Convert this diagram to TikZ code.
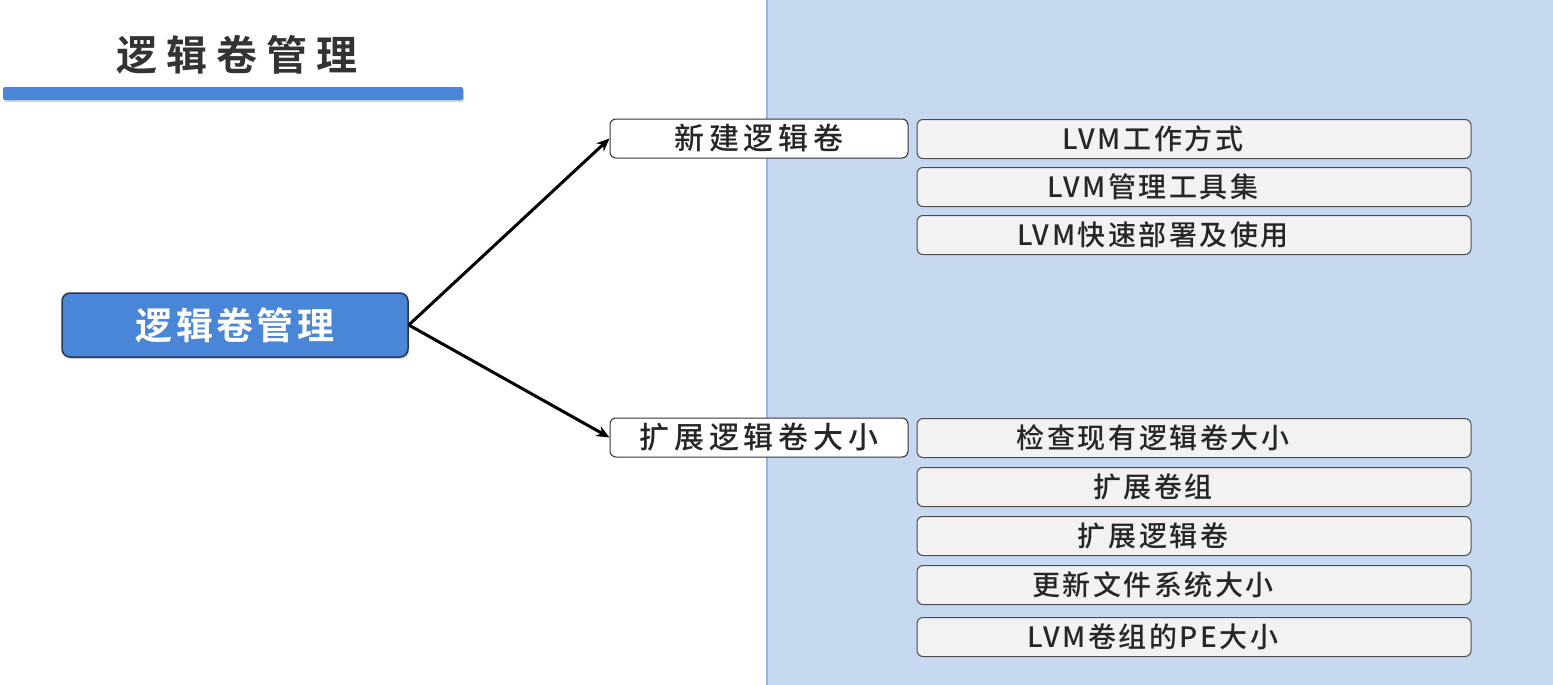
\documentclass[tikz,border=0pt]{standalone}
\usepackage{fontspec}
\setmainfont{Noto Sans CJK SC Medium}[BoldFont={Noto Sans CJK SC Bold}]
\usetikzlibrary{arrows.meta,shadows}
\definecolor{lvpanel}{RGB}{198,217,240}
\definecolor{lvblue}{RGB}{74,134,216}
\definecolor{lvedge}{RGB}{38,56,86}
\definecolor{lvbox}{RGB}{242,242,242}
\definecolor{lvtext}{RGB}{51,51,51}
\newcommand{\lvfont}[2]{\fontsize{#1}{#1}\selectfont\addfontfeatures{LetterSpace=#2}}
\newcommand{\lvitems}[2]{%
  \foreach \ytop/\txt [count=\i] in {#2}{%
    \node[itembox] (#1\i) at (1194,\ytop) {\hspace*{-82pt}\txt};}
}

\begin{document}
\begin{tikzpicture}[x=1pt,y=-1pt,
    topic/.style={draw=lvedge,line width=1.5pt,rounded corners=8pt,fill=lvblue,
      text=white,minimum width=346pt,minimum height=64pt,inner sep=0pt,
      font=\lvfont{37}{9}\bfseries,drop shadow={opacity=.35,shadow xshift=1pt,shadow yshift=-2pt}},
    branch/.style={draw=black!80,line width=1pt,rounded corners=6pt,fill=white,
      text=black!85,minimum width=298pt,minimum height=39pt,inner sep=0pt,
      font=\lvfont{30}{16}},
    itembox/.style={draw=black!70,line width=1pt,rounded corners=6pt,fill=lvbox,
      text=black!85,minimum width=554pt,minimum height=39pt,inner sep=0pt,anchor=north,
      font=\lvfont{28}{9}},
    link/.style={-{Stealth[length=13pt,width=11pt]},line width=3pt}]
  \useasboundingbox (0,0) rectangle (1553,685);
  \fill[lvpanel] (766,0) rectangle (1553,685);
  \draw[lvblue!60,line width=1.5pt] (767,0) -- (767,685);
  % heading
  \node[text=lvtext,font=\lvfont{41}{22}\bfseries] (title) at (237,55) {逻辑卷管理};
  \fill[lvblue,rounded corners=2pt,drop shadow={opacity=.35,shadow xshift=1pt,shadow yshift=-2pt}]
    (3,87) rectangle (463,100);
  % tree
  \node[topic] (root) at (235,325) {逻辑卷管理};
  \node[branch] (create) at (759,138.5) {新建逻辑卷};
  \node[branch] (extend) at (759,437.5) {扩展逻辑卷大小};
  \draw[link] (root.east) -- (create.west);
  \draw[link] (root.east) -- (extend.west);
  \lvitems{c}{119/LVM工作方式,167/LVM管理工具集,215/LVM快速部署及使用}
  \lvitems{e}{418/检查现有逻辑卷大小,467/扩展卷组,516/扩展逻辑卷,565/更新文件系统大小,617/LVM卷组的PE大小}
\end{tikzpicture}
\end{document}
